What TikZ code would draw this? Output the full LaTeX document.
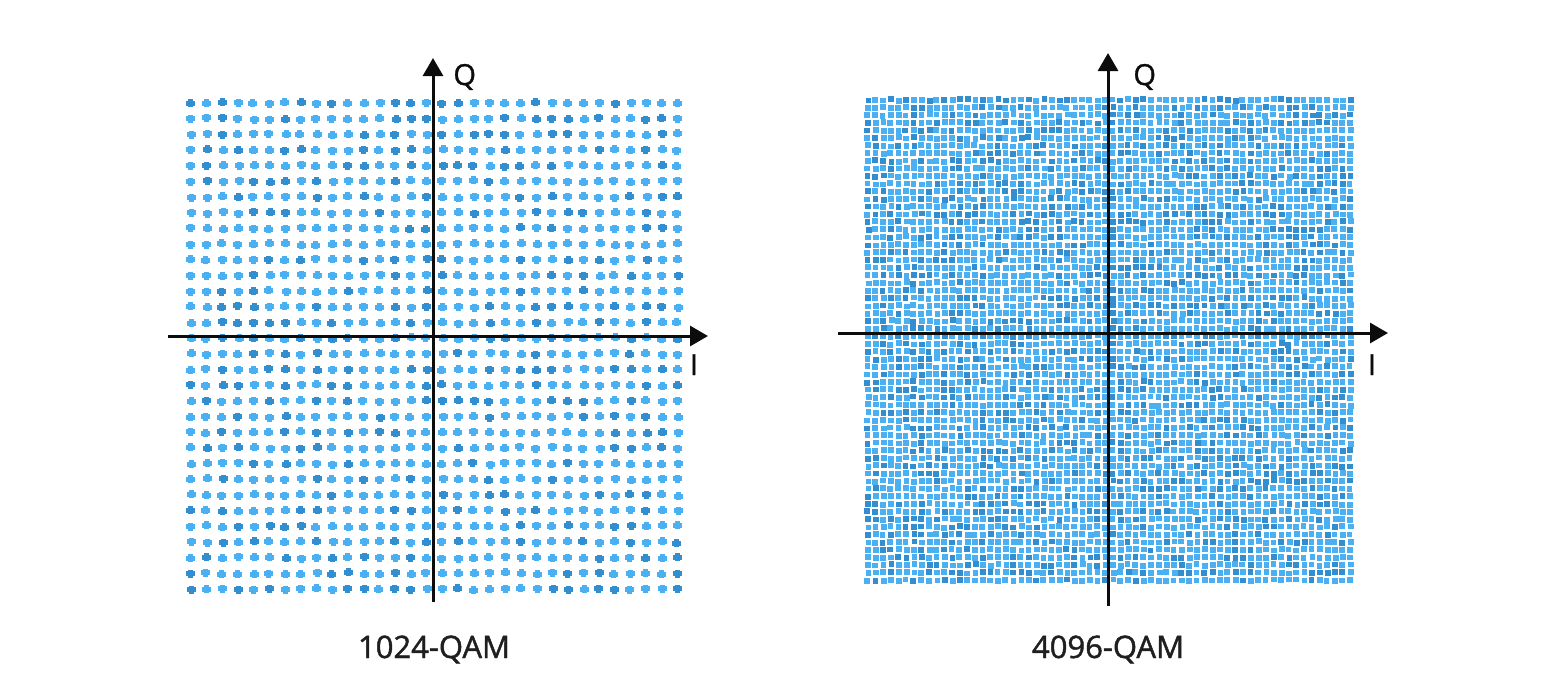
\documentclass[tikz,border=0pt]{standalone}
\usepackage{fontspec}
\setmainfont{Open Sans}
\usetikzlibrary{arrows.meta}
\definecolor{qamblue}{RGB}{74,176,242}
\definecolor{qamdark}{RGB}{50,142,206}
\definecolor{axisblack}{RGB}{12,12,12}

\begin{document}
\begin{tikzpicture}[x=0.5pt, y=-0.5pt,
	axis/.style = {draw=axisblack, line width=1.5pt, -{Triangle[length=9pt, width=10pt]}},
	lbl/.style = {font=\fontsize{14.5}{16}\selectfont\addfontfeature{FakeBold=1.2}, text=axisblack, anchor=base, inner sep=0pt},
	caption/.style = {font=\fontsize{15.5}{18}\selectfont\addfontfeature{FakeBold=1.4}, text=black!88, anchor=base, inner sep=0pt}]
	\useasboundingbox (0,0) rectangle (1561,692);
	\pgfmathsetseed{1024}
	% 1024-QAM constellation
	\foreach \i in {0,...,31}
		\foreach \j in {0,...,31} {
			\pgfmathsetmacro{\cx}{191+15.7*\i+rand}
			\pgfmathsetmacro{\cy}{103+15.68*\j+rand}
			\pgfmathsetmacro{\mx}{int(random(0,3))}
			\ifnum\mx=0 \def\dotcol{qamdark}\else\def\dotcol{qamblue}\fi
			\fill[\dotcol] (\cx-4.5,\cy-2.5) rectangle (\cx+4.5,\cy+2.5);
			\fill[\dotcol] (\cx-2.5,\cy-4) rectangle (\cx+2.5,\cy+4);
		}
	% 4096-QAM constellation
	\foreach \i in {0,...,63}
		\foreach \j in {0,...,63} {
			\pgfmathsetmacro{\cx}{865+7.656*\i+0.8*rand}
			\pgfmathsetmacro{\cy}{97+7.625*\j+0.8*rand}
			\pgfmathsetmacro{\mx}{int(random(0,3))}
			\ifnum\mx=0 \def\dotcol{qamdark}\else\def\dotcol{qamblue}\fi
			\fill[\dotcol] (\cx,\cy) rectangle (\cx+5.8,\cy+5.8);
		}
	% axes
	\coordinate (l-south) at (433,602);
	\coordinate (l-north) at (433,58);
	\coordinate (l-west) at (168,336);
	\coordinate (l-east) at (708,336);
	\draw[axis] (l-south) -- (l-north);
	\draw[axis] (l-west) -- (l-east);
	\coordinate (r-south) at (1108,606);
	\coordinate (r-north) at (1108,53);
	\coordinate (r-west) at (838,333);
	\coordinate (r-east) at (1388,333);
	\draw[axis] (r-south) -- (r-north);
	\draw[axis] (r-west) -- (r-east);
	% labels
	\node[lbl, anchor=base west] (l-q) at (453,85) {Q};
	\node[lbl] (l-i) at (694,375) {I};
	\node[caption] (l-cap) at (434,658) {1024-QAM};
	\node[lbl, anchor=base west] (r-q) at (1133,85) {Q};
	\node[lbl] (r-i) at (1372,375) {I};
	\node[caption] (r-cap) at (1108,658) {4096-QAM};
\end{tikzpicture}
\end{document}
